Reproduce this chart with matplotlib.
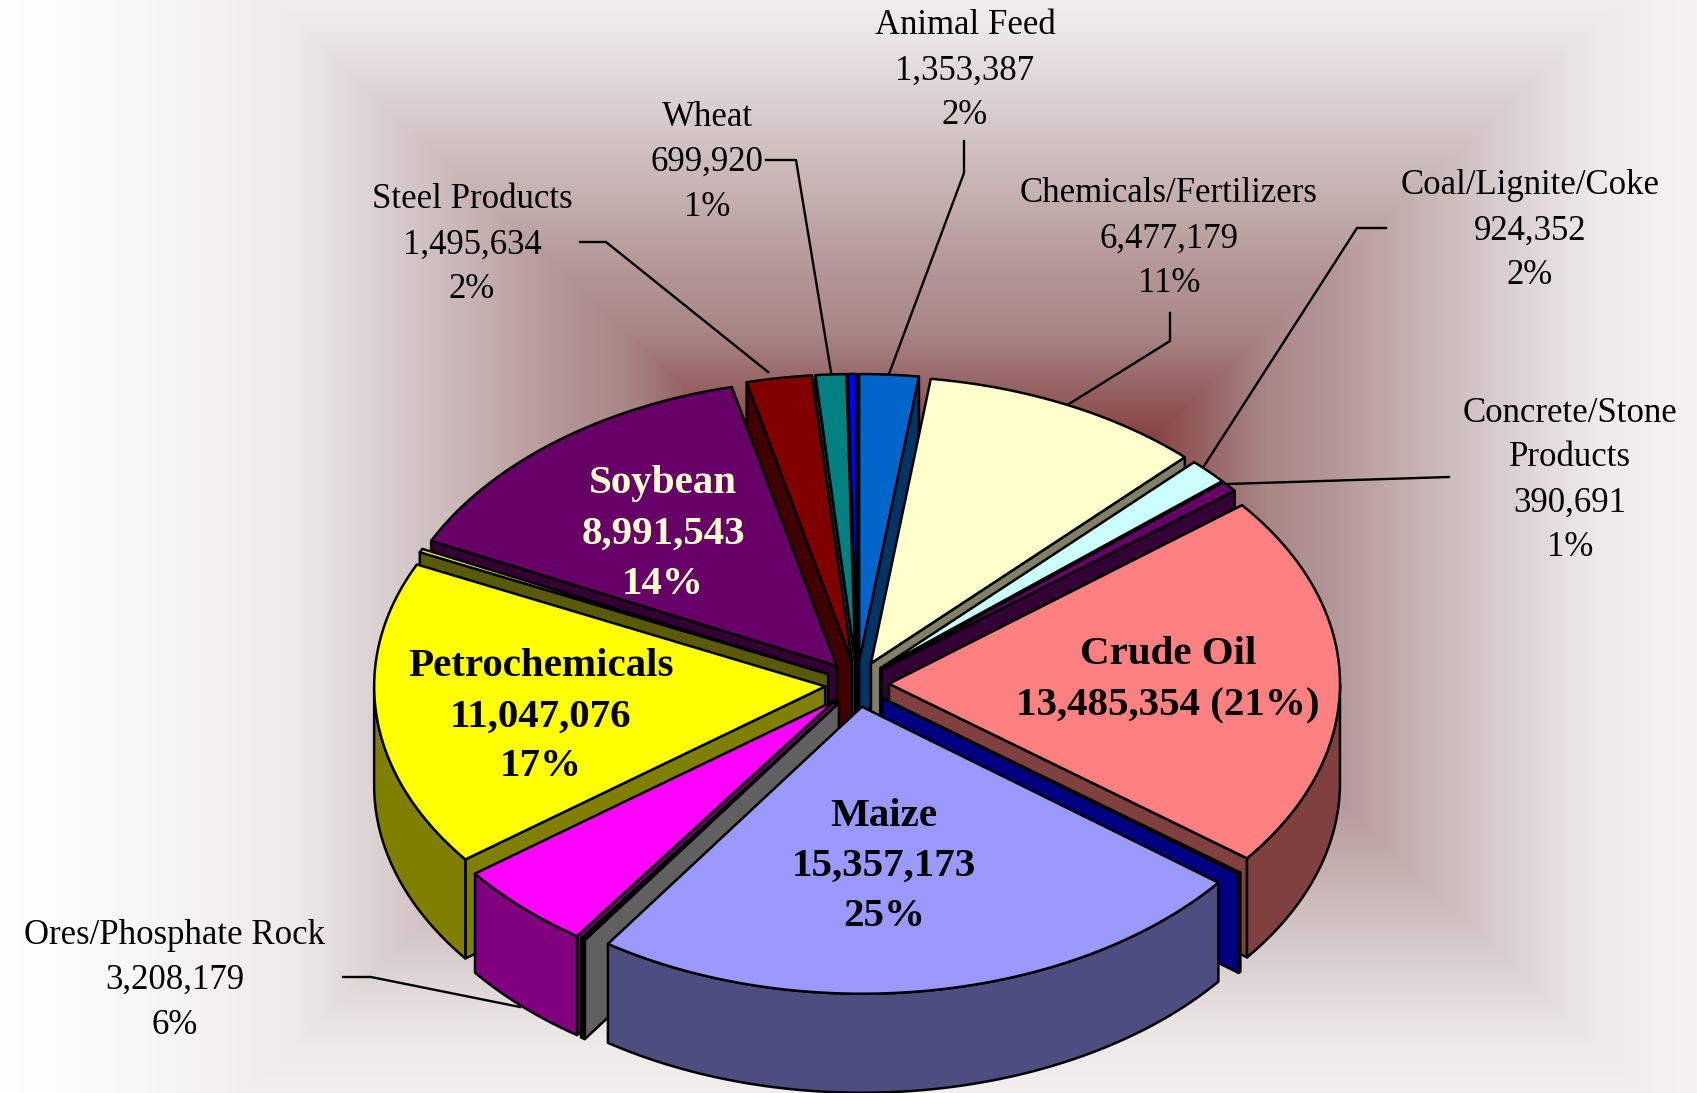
import numpy as np
import matplotlib
matplotlib.use('Agg')
import matplotlib.pyplot as plt
from matplotlib.patches import Polygon

# slices clockwise from the top, the unnamed ones are slivers with no label
names = ['Animal Feed', 'Chemicals/Fertilizers', 'Coal/Lignite/Coke', 'Concrete/Stone Products',
         'Crude Oil', '', 'Maize', '', '', 'Ores/Phosphate Rock', 'Petrochemicals', '',
         'Soybean', 'Steel Products', 'Wheat', '']
values = [1353387, 6477179, 924352, 390691,
          13485354, 60000, 15357173, 70000, 30000, 3208179, 11047076, 130000,
          8991543, 1495634, 699920, 200000]
percents = [2, 11, 2, 1, 21, 0, 25, 0, 0, 6, 17, 0, 14, 2, 1, 0]
top_colors = ['#0066cc', '#ffffcc', '#ccffff', '#660066',
              '#ff8080', '#0000ff', '#9999ff', '#c0c0c0', '#800080', '#ff00ff', '#ffff00', '#ffff00',
              '#660066', '#800000', '#008080', '#0000ff']
wall_colors = ['#003366', '#808066', '#668080', '#330033',
               '#804040', '#000080', '#4d4d80', '#606060', '#400040', '#800080', '#808000', '#5a5a00',
               '#330033', '#400000', '#004040', '#000080']

W, H = 1697, 1093
cx, cy = 857, 684
rx, ry = 451, 287
ex, ey = 32, 23
depth = 99
start = 0.0
lw = 1.8

fig = plt.figure(figsize=(W / 100, H / 100), dpi=100)
ax = fig.add_axes([0, 0, 1, 1])
ax.set_xlim(0, W)
ax.set_ylim(H, 0)
ax.axis('off')

# background, rectangular path gradient
xx, yy = np.meshgrid(np.arange(W), np.arange(H))
d = np.maximum(np.abs(xx - 945.0), np.maximum((630 - yy) * 1.07, (yy - 435) * 1.07))
stops = [0, 200, 258, 322, 385, 500, 650, 810, 945]
red = np.interp(d, stops, [128, 134, 150, 169, 180, 205, 238, 248, 255])
green = np.interp(d, stops, [50, 62, 98, 135, 150, 188, 234, 248, 255])
bg = np.dstack([red, green, green]) / 255
ax.imshow(bg, extent=[0, W, H, 0], aspect='auto', zorder=0)

# leader lines
leaders = [
    [(580, 242), (606, 242), (768, 372)],
    [(766, 160), (796, 160), (831, 372)],
    [(964, 141), (964, 173), (889, 374)],
    [(1170, 313), (1170, 341), (1069, 404)],
    [(1386, 228), (1357, 228), (1204, 466)],
    [(1449, 477), (1228, 484)],
    [(343, 977), (371, 977), (520, 1007)],
]
for pts in leaders:
    p = np.array(pts)
    ax.plot(p[:, 0], p[:, 1], color='black', lw=1.7, zorder=1)


def pt(theta, ox, oy, r=1.0):
    t = np.radians(theta)
    return ox + r * rx * np.sin(t), oy - r * ry * np.cos(t)


sweeps = np.array(values) / sum(values) * 360
edges = start + np.concatenate([[0], np.cumsum(sweeps)])
mids = (edges[:-1] + edges[1:]) / 2

z = 2
for i in np.argsort(-np.cos(np.radians(mids))):
    a, b, m = edges[i], edges[i + 1], mids[i]
    ox = cx + ex * np.sin(np.radians(m))
    oy = cy - ey * np.cos(np.radians(m))
    faces = []
    # radial walls that face the viewer
    if np.sin(np.radians(a)) < 0:
        x1, y1 = pt(a, ox, oy)
        faces.append(([(ox, oy), (x1, y1), (x1, y1 + depth), (ox, oy + depth)], wall_colors[i]))
    if np.sin(np.radians(b)) > 0:
        x1, y1 = pt(b, ox, oy)
        faces.append(([(ox, oy), (x1, y1), (x1, y1 + depth), (ox, oy + depth)], wall_colors[i]))
    # outer rim, only the front half shows
    lo, hi = max(a, 90), min(b, 270)
    if hi > lo:
        th = np.linspace(lo, hi, 80)
        ax_, ay_ = pt(th, ox, oy)
        rim = list(zip(ax_, ay_)) + list(zip(ax_[::-1], ay_[::-1] + depth))
        faces.append((rim, wall_colors[i]))
    th = np.linspace(a, b, 120)
    tx, ty = pt(th, ox, oy)
    faces.append(([(ox, oy)] + list(zip(tx, ty)), top_colors[i]))
    for poly, col in faces:
        ax.add_patch(Polygon(poly, closed=True, fc=col, ec='black', lw=lw, joinstyle='round', zorder=z))
        z += 1

font = 'Liberation Serif'


def label(x, y0, lines, size=25, weight='normal', color='black', pitch=45):
    for k, s in enumerate(lines):
        ax.text(x, y0 + k * pitch, s, ha='center', va='center', family=font, fontsize=size,
                fontweight=weight, color=color, zorder=500)


def lines_for(name):
    i = names.index(name)
    return [name, f'{values[i]:,}', f'{percents[i]}%']


label(965, 26, lines_for('Animal Feed'))
label(707, 117, lines_for('Wheat'))
label(472, 200, lines_for('Steel Products'))
label(1169, 194, lines_for('Chemicals/Fertilizers'))
label(1530, 186, lines_for('Coal/Lignite/Coke'))
i = names.index('Concrete/Stone Products')
label(1570, 413, ['Concrete/Stone', 'Products', f'{values[i]:,}', f'{percents[i]}%'])
label(175, 935, lines_for('Ores/Phosphate Rock'))

i = names.index('Crude Oil')
label(1168, 655, ['Crude Oil', f'{values[i]:,} ({percents[i]}%)'], size=29.5, weight='bold', pitch=51)
label(884, 816, lines_for('Maize'), size=29.5, weight='bold', pitch=50)
label(541, 667, lines_for('Petrochemicals'), size=29.5, weight='bold', pitch=50)
label(663, 484, lines_for('Soybean'), size=29.5, weight='bold', color='#ffffcc', pitch=50)

fig.savefig('out.png', dpi=100)
